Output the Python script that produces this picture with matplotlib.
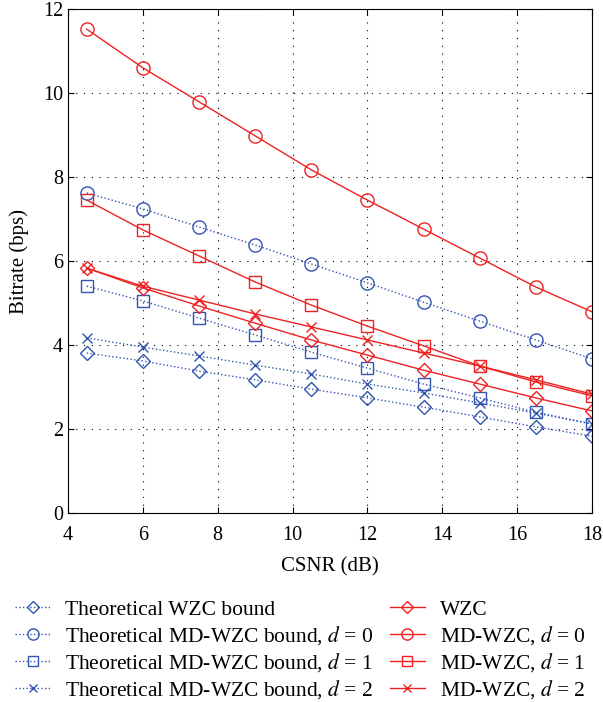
import numpy as np
import matplotlib
matplotlib.use('Agg')
import matplotlib.pyplot as plt

plt.rcParams['font.family'] = ['Liberation Serif', 'DejaVu Serif']
plt.rcParams['mathtext.fontset'] = 'stix'

csnr = [4.5, 6, 7.5, 9, 10.5, 12, 13.5, 15, 16.5, 18]

# theoretical bounds (blue, dotted)
th_wzc = [3.81, 3.62, 3.38, 3.17, 2.95, 2.74, 2.52, 2.29, 2.05, 1.83]
th_d0 = [7.62, 7.24, 6.81, 6.38, 5.93, 5.48, 5.02, 4.57, 4.12, 3.67]
th_d1 = [5.40, 5.05, 4.64, 4.24, 3.83, 3.45, 3.07, 2.74, 2.40, 2.12]
th_d2 = [4.17, 3.95, 3.74, 3.52, 3.31, 3.07, 2.86, 2.62, 2.38, 2.12]

# simulated (red, solid)
wzc = [5.83, 5.36, 4.93, 4.52, 4.12, 3.76, 3.40, 3.07, 2.74, 2.43]
md_d0 = [11.52, 10.60, 9.79, 8.98, 8.17, 7.45, 6.76, 6.07, 5.38, 4.79]
md_d1 = [7.45, 6.74, 6.12, 5.50, 4.95, 4.45, 3.98, 3.50, 3.12, 2.79]
md_d2 = [5.83, 5.40, 5.07, 4.74, 4.43, 4.12, 3.81, 3.50, 3.17, 2.83]

blue = '#3355b0'
red = '#ee2222'

fig = plt.figure(figsize=(6.03, 7.02), dpi=100)
ax = fig.add_axes([0.1128, 0.2692, 0.869, 0.718])

mk = dict(markerfacecolor='none', markersize=9.5, markeredgewidth=1.0, linewidth=1.0)
dm = dict(mk, markersize=7.5)
sq = dict(mk, markersize=8.5)
xm = dict(mk, markersize=7)
ax.plot(csnr, th_wzc, ':', color=blue, marker='D', label='Theoretical WZC bound', **dm)
ax.plot(csnr, th_d0, ':', color=blue, marker='o', label='Theoretical MD-WZC bound, $d$ = 0', **mk)
ax.plot(csnr, th_d1, ':', color=blue, marker='s', label='Theoretical MD-WZC bound, $d$ = 1', **sq)
ax.plot(csnr, th_d2, ':', color=blue, marker='x', label='Theoretical MD-WZC bound, $d$ = 2', **xm)
ax.plot(csnr, wzc, '-', color=red, marker='D', label='WZC', **dm)
ax.plot(csnr, md_d0, '-', color=red, marker='o', label='MD-WZC, $d$ = 0', **mk)
ax.plot(csnr, md_d1, '-', color=red, marker='s', label='MD-WZC, $d$ = 1', **sq)
ax.plot(csnr, md_d2, '-', color=red, marker='x', label='MD-WZC, $d$ = 2', **xm)

ax.set_xlim(4, 18)
ax.set_ylim(0, 12)
ax.set_xticks(np.arange(4, 19, 2))
ax.set_yticks(np.arange(0, 13, 2))
ax.grid(True, linestyle=(0, (1, 6)), color='black', linewidth=0.8)
ax.tick_params(direction='in', labelsize=14.5, length=4, top=True, right=True)
ax.tick_params(axis='x', pad=9)
ax.set_xlabel('CSNR (dB)', fontsize=15, labelpad=9)
ax.set_ylabel('Bitrate (bps)', fontsize=15, labelpad=10)

fig.legend(loc='upper left', bbox_to_anchor=(0.011, 0.158), ncol=2, frameon=False,
           fontsize=15.5, handlelength=1.63, labelspacing=0.2, columnspacing=0.75,
           handletextpad=0.7, borderaxespad=0, markerscale=0.85)

fig.savefig('out.png', dpi=100)
